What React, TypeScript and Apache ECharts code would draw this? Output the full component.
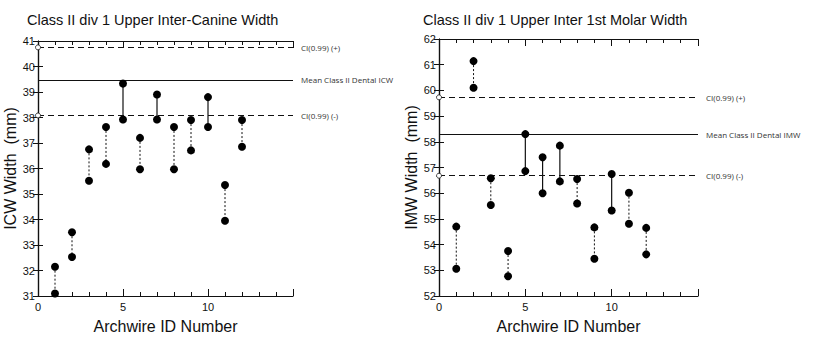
import React, { useEffect, useRef } from "react";
import * as echarts from "echarts";

const ids = [1, 2, 3, 4, 5, 6, 7, 8, 9, 10, 11, 12];
const icwUpper = [32.15, 33.5, 36.75, 37.63, 39.33, 37.2, 38.9, 37.63, 37.9, 38.8, 35.35, 37.9];
const icwLower = [31.1, 32.53, 35.52, 36.18, 37.92, 35.97, 37.92, 35.97, 36.71, 37.63, 33.95, 36.85];
const icwSolidIds = [5, 7, 10];
const icwRef = { plus: 40.75, mean: 39.48, minus: 38.08 };

const imwUpper = [54.7, 61.14, 56.58, 53.75, 58.3, 57.4, 57.85, 56.55, 54.67, 56.75, 56.02, 54.65];
const imwLower = [53.06, 60.1, 55.54, 52.77, 56.86, 56.0, 56.46, 55.6, 53.45, 55.33, 54.81, 53.62];
const imwSolidIds = [5, 6, 7, 10];
const imwRef = { plus: 59.73, mean: 58.29, minus: 56.68 };

const xTickLabels = [0, 5, 10];
const titles = ["Class II div 1 Upper Inter-Canine Width", "Class II div 1 Upper Inter 1st Molar Width"];
const yNames = ["ICW Width  (mm)", "IMW Width  (mm)"];
const xName = "Archwire ID Number";
const meanLabels = ["Mean Class II Dental ICW", "Mean Class II Dental IMW"];

const FONT = "Liberation Sans, Arial, sans-serif";
const INK = "#111";

function xAxes(gridIndex: number) {
  const common = {
    type: "value",
    gridIndex,
    min: 0,
    max: 15,
    interval: 5,
    axisLine: { show: true, lineStyle: { color: INK, width: 1.2 } },
    axisTick: { show: true, inside: true, length: 7, lineStyle: { color: INK } },
    minorTick: { show: true, splitNumber: 5, length: 4, lineStyle: { color: INK } },
    splitLine: { show: false },
    minorSplitLine: { show: false },
  };
  return [
    {
      ...common,
      position: "bottom",
      name: xName,
      nameLocation: "middle",
      nameGap: 22,
      nameTextStyle: { fontFamily: FONT, fontSize: 16, color: INK },
      axisLabel: {
        fontFamily: FONT,
        fontSize: 11,
        color: INK,
        margin: 5,
        formatter: (v: number) => (xTickLabels.includes(v) ? String(v) : ""),
      },
    },
    { ...common, position: "top", axisLabel: { show: false } },
  ];
}

function yAxes(gridIndex: number, min: number, max: number) {
  const common = {
    type: "value",
    gridIndex,
    min,
    max,
    interval: 1,
    axisLine: { show: true, lineStyle: { color: INK, width: 1.2 } },
    axisTick: { show: true, inside: true, length: 5, lineStyle: { color: INK } },
    splitLine: { show: false },
  };
  return [
    {
      ...common,
      position: "left",
      name: yNames[gridIndex],
      nameLocation: "middle",
      nameGap: 16,
      nameTextStyle: { fontFamily: FONT, fontSize: 16, color: INK },
      axisLabel: { fontFamily: FONT, fontSize: 11, color: INK, margin: 3 },
    },
    { ...common, position: "right", axisLabel: { show: false } },
  ];
}

function refLines(ref: { plus: number; mean: number; minus: number }, meanLabel: string) {
  const lbl = (text: string) => ({
    show: true,
    position: "end",
    distance: 8,
    formatter: text,
    fontFamily: "Open Sans, DejaVu Sans, sans-serif",
    fontSize: 8,
    color: "#333",
  });
  return {
    silent: true,
    animation: false,
    symbol: ["none", "none"],
    data: [
      {
        yAxis: ref.plus,
        lineStyle: { color: INK, type: [6, 4], width: 1.2 },
        label: lbl("CI(0.99) (+)"),
      },
      {
        yAxis: ref.mean,
        lineStyle: { color: INK, type: "solid", width: 1.2 },
        label: lbl(meanLabel),
      },
      {
        yAxis: ref.minus,
        lineStyle: { color: INK, type: [6, 4], width: 1.2 },
        label: lbl("CI(0.99) (-)"),
      },
    ],
  };
}

function chartSeries(
  gridIndex: number,
  upper: number[],
  lower: number[],
  solidIds: number[],
  ref: { plus: number; mean: number; minus: number }
) {
  const xi = gridIndex * 2;
  const yi = gridIndex * 2;
  const segData = ids.map((id, i) => [id, upper[i], lower[i], solidIds.includes(id) ? 1 : 0]);
  const pts = ids.flatMap((id, i) => [
    [id, upper[i]],
    [id, lower[i]],
  ]);
  return [
    {
      type: "custom",
      xAxisIndex: xi,
      yAxisIndex: yi,
      data: segData,
      clip: false,
      silent: true,
      renderItem: (_p: any, api: any) => {
        const a = api.coord([api.value(0), api.value(1)]);
        const b = api.coord([api.value(0), api.value(2)]);
        const solid = api.value(3) === 1;
        return {
          type: "line",
          shape: { x1: a[0], y1: a[1], x2: b[0], y2: b[1] },
          style: {
            stroke: INK,
            lineWidth: solid ? 1.2 : 1,
            lineDash: solid ? null : [2, 2],
          },
        };
      },
      markLine: refLines(ref, meanLabels[gridIndex]),
    },
    {
      type: "scatter",
      xAxisIndex: xi,
      yAxisIndex: yi,
      data: [
        [0, ref.plus],
        [0, ref.minus],
      ],
      symbol: "circle",
      symbolSize: 5,
      clip: false,
      silent: true,
      z: 6,
      itemStyle: { color: "#fff", borderColor: INK, borderWidth: 0.8, opacity: 1 },
    },
    {
      type: "scatter",
      xAxisIndex: xi,
      yAxisIndex: yi,
      data: pts,
      symbol: "circle",
      symbolSize: 8,
      clip: false,
      z: 5,
      itemStyle: { color: "#000", opacity: 1 },
    },
  ];
}

export default function App() {
  const ref = useRef<HTMLDivElement>(null);
  useEffect(() => {
    if (!ref.current) return;
    const chart = echarts.init(ref.current, undefined, { renderer: "svg" });
    chart.setOption({
      animation: false,
      backgroundColor: "#fff",
      title: [
        {
          text: titles[0],
          left: 22,
          top: 7,
          textStyle: { fontFamily: FONT, fontSize: 14.5, fontWeight: "normal", color: INK },
        },
        {
          text: titles[1],
          left: 418,
          top: 7,
          textStyle: { fontFamily: FONT, fontSize: 14.5, fontWeight: "normal", color: INK },
        },
      ],
      grid: [
        { left: 38, top: 41, width: 255, height: 255 },
        { left: 439, top: 39, width: 259, height: 257 },
      ],
      xAxis: [...xAxes(0), ...xAxes(1)],
      yAxis: [...yAxes(0, 31, 41), ...yAxes(1, 52, 62)],
      series: [
        ...chartSeries(0, icwUpper, icwLower, icwSolidIds, icwRef),
        ...chartSeries(1, imwUpper, imwLower, imwSolidIds, imwRef),
      ],
    });
    return () => chart.dispose();
  }, []);
  return (
    <div
      ref={ref}
      style={{ position: "fixed", left: 0, top: 0, width: 820, height: 342, background: "#fff" }}
    />
  );
}
